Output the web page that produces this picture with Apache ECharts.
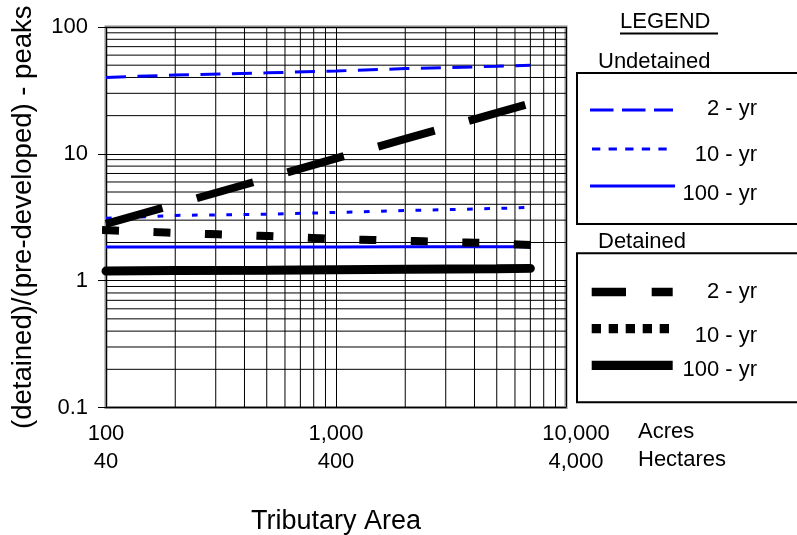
<!DOCTYPE html>
<html>
<head>
<meta charset="utf-8">
<script src="https://cdn.jsdelivr.net/npm/echarts@6/dist/echarts.min.js"></script>
<style>
  html, body { margin: 0; padding: 0; background: #fff; }
  #chart { width: 797px; height: 535px; }
</style>
</head>
<body>
<div id="chart"></div>
<script>
// Tributary area (acres) at which the peak ratios are listed
const areaAcres = [100, 200, 500, 1000, 2000, 5000, 7000];

// Ratio of post-development to pre-development peak flow
const undetained2yr   = [40, 41.8, 43.5, 45, 47, 49, 50];
const undetained10yr  = [3.1, 3.27, 3.34, 3.45, 3.57, 3.71, 3.78];
const undetained100yr = [1.84, 1.84, 1.845, 1.845, 1.85, 1.85, 1.85];
const detained2yr     = [2.8, 4.0, 6.4, 9.2, 13.1, 21, 25];
const detained10yr    = [2.5, 2.38, 2.25, 2.13, 2.06, 1.97, 1.91];
const detained100yr   = [1.19, 1.2, 1.21, 1.22, 1.23, 1.24, 1.25];

// Axis tick labels: acres on the first row, hectares below
const xTickAcres    = ['100', '1,000', '10,000'];
const xTickHectares = ['40', '400', '4,000'];
const yTickLabels   = ['0.1', '1', '10', '100'];

// Intermediate log-cycle grid lines
const xMinorGrid = [200, 300, 400, 500, 600, 700, 800, 900,
                    2000, 3000, 4000, 5000, 6000, 7000, 8000, 9000];
const yMinorGrid = [0.2, 0.3, 0.4, 0.5, 0.6, 0.7, 0.8, 0.9,
                    2, 3, 4, 5, 6, 7, 8, 9,
                    20, 30, 40, 50, 60, 70, 80, 90];

const FONT = '"Liberation Sans", Arial, sans-serif';
const BLUE = '#0000ff';

const pairs = (ys) => areaAcres.map((x, i) => [x, ys[i]]);

function gridSeries() {
  const out = [];
  const style = { color: '#000', width: 1 };
  xMinorGrid.forEach(v => out.push({
    type: 'line', data: [[v, 0.1], [v, 100]], symbol: 'none', silent: true,
    lineStyle: style, z: 1, animation: false
  }));
  yMinorGrid.forEach(v => out.push({
    type: 'line', data: [[100, v], [10000, v]], symbol: 'none', silent: true,
    lineStyle: style, z: 1, animation: false
  }));
  return out;
}

function curve(name, ys, lineStyle) {
  return {
    name, type: 'line', data: pairs(ys), symbol: 'none', showSymbol: false,
    clip: false, z: 3, animation: false, lineStyle
  };
}

const chart = echarts.init(document.getElementById('chart'), null, { renderer: 'canvas' });

const legendText = (x, y, text, align) => ({
  type: 'text', silent: true,
  style: { x, y, text, font: '22px ' + FONT, fill: '#000',
           align: align || 'left', verticalAlign: 'middle',
           textAlign: align || 'left', textVerticalAlign: 'middle' }
});
const legendLine = (x1, x2, y, stroke, lineWidth, lineDash) => ({
  type: 'line', silent: true,
  shape: { x1, y1: y, x2, y2: y },
  style: { stroke, lineWidth, lineDash: lineDash || null, lineCap: 'butt' }
});

chart.setOption({
  backgroundColor: '#fff',
  animation: false,
  grid: {
    left: 106, top: 27, width: 460, height: 380.5,
    outerBoundsMode: 'none', containLabel: false,
    show: true, borderColor: '#8a8a8a', borderWidth: 3, backgroundColor: 'transparent'
  },
  xAxis: {
    type: 'log', logBase: 10, min: 100, max: 10000,
    name: 'Tributary Area', nameLocation: 'middle', nameGap: 101,
    nameTextStyle: { fontSize: 27, fontFamily: FONT, color: '#000' },
    axisLine: { show: false },
    axisTick: { show: false },
    splitLine: { show: true, lineStyle: { color: '#000', width: 1 } },
    axisLabel: {
      margin: 12, showMinLabel: true, showMaxLabel: true,
      formatter: (v) => {
        const i = Math.round(Math.log10(v)) - 2;
        const tag = i === xTickAcres.length - 1 ? 'b' : 'a';
        return `{${tag}|${xTickAcres[i]}}\n{${tag}|${xTickHectares[i]}}`;
      },
      rich: {
        a: { fontSize: 22, lineHeight: 28, fontFamily: FONT, color: '#000' },
        b: { fontSize: 22, lineHeight: 28, fontFamily: FONT, color: '#000', padding: [0, 0, 0, 20] }
      }
    }
  },
  yAxis: {
    type: 'log', logBase: 10, min: 0.1, max: 100,
    name: '(detained)/(pre-developed) - peaks', nameLocation: 'middle', nameGap: 69,
    nameTextStyle: { fontSize: 27.5, fontFamily: FONT, color: '#000' },
    axisLine: { show: false },
    axisTick: { show: true, length: 8, lineStyle: { color: '#000', width: 1 } },
    splitLine: { show: true, lineStyle: { color: '#000', width: 1 } },
    axisLabel: {
      margin: 18, fontSize: 22, fontFamily: FONT, color: '#000',
      showMinLabel: true, showMaxLabel: true,
      formatter: (v) => yTickLabels[Math.round(Math.log10(v)) + 1]
    }
  },
  series: [
    ...gridSeries(),
    curve('Undetained 2 - yr', undetained2yr,
      { color: BLUE, width: 3, type: [20, 11.5], cap: 'butt' }),
    curve('Undetained 10 - yr', undetained10yr,
      { color: BLUE, width: 3, type: [5.7, 11.5], cap: 'butt' }),
    curve('Undetained 100 - yr', undetained100yr,
      { color: BLUE, width: 3, type: 'solid', cap: 'butt' }),
    curve('Detained 2 - yr', detained2yr,
      { color: '#000', width: 8, type: [58.7, 35.6], cap: 'butt' }),
    curve('Detained 10 - yr', detained10yr,
      { color: '#000', width: 8, type: [9, 42.5], cap: 'square' }),
    curve('Detained 100 - yr', detained100yr,
      { color: '#000', width: 9, type: 'solid', cap: 'round' })
  ],
  graphic: [
    // unit names beside the x tick rows
    legendText(638, 432, 'Acres'),
    legendText(638, 460, 'Hectares'),

    // legend heading
    legendText(620, 22, 'LEGEND'),
    legendLine(620, 718, 33.5, '#000', 2),

    // undetained block
    legendText(598, 61.5, 'Undetained'),
    { type: 'rect', silent: true, shape: { x: 577, y: 73, width: 240, height: 151 },
      style: { fill: 'none', stroke: '#000', lineWidth: 2 } },
    legendLine(590, 673, 110, BLUE, 3, [23.5, 8.5]),
    legendLine(592, 673, 149, BLUE, 3, [8.3, 8.3]),
    legendLine(590, 675, 186, BLUE, 3),
    legendText(757, 109, '2 - yr', 'right'),
    legendText(757, 154.5, '10 - yr', 'right'),
    legendText(757, 194, '100 - yr', 'right'),

    // detained block
    legendText(598, 241.7, 'Detained'),
    { type: 'rect', silent: true, shape: { x: 577, y: 253.3, width: 240, height: 149 },
      style: { fill: 'none', stroke: '#000', lineWidth: 2 } },
    legendLine(591.7, 672.7, 292, '#000', 8.5, [34.3, 25.7]),
    legendLine(591.7, 672, 328.7, '#000', 9.3, [9.3, 7.7]),
    legendLine(591.7, 672.7, 365.3, '#000', 9.3),
    legendText(757, 292, '2 - yr', 'right'),
    legendText(757, 335.8, '10 - yr', 'right'),
    legendText(757, 369.7, '100 - yr', 'right')
  ]
});
</script>
</body>
</html>
